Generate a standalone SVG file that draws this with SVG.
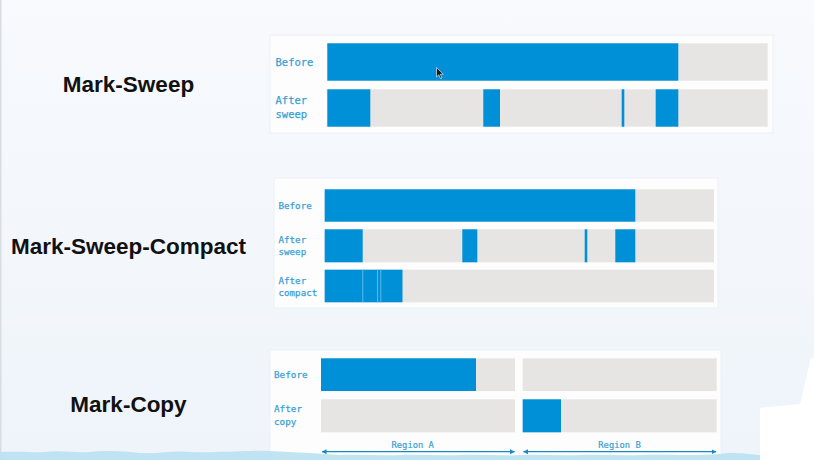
<svg xmlns="http://www.w3.org/2000/svg" width="814" height="460" viewBox="0 0 814 460">
  <defs>
    <linearGradient id="bg" x1="0" y1="0" x2="0" y2="1">
      <stop offset="0" stop-color="#f8fafd"/>
      <stop offset="1" stop-color="#eef4fa"/>
    </linearGradient>
    <marker id="ah" viewBox="0 0 10 10" refX="9" refY="5" markerWidth="5" markerHeight="5" orient="auto-start-reverse" markerUnits="userSpaceOnUse">
      <path d="M0,0 L10,5 L0,10 Z" fill="#1b8ac3"/>
    </marker>
    <style>
      .panel { fill: #fdfdfe; stroke: #ebf0f6; stroke-width: 1; }
      .bar { fill: #e6e5e4; }
      .used { fill: #0090d8; }
      .sep { stroke: #5cbbe9; stroke-width: 1; }
      .lbl { font-family: "DejaVu Sans Mono", "Liberation Mono", monospace; fill: #3a9fd4; stroke: #3a9fd4; stroke-width: 0.25; }
      .title { font-family: "Liberation Sans", Arial, sans-serif; font-weight: bold; font-size: 22.5px; fill: #111; text-anchor: middle; }
      .conn { stroke: #1b8ac3; stroke-width: 1.2; fill: none; }
      .region { font-family: "DejaVu Sans Mono", "Liberation Mono", monospace; font-size: 8.8px; fill: #3a9fd4; stroke: #3a9fd4; stroke-width: 0.2; text-anchor: middle; }
    </style>
  </defs>

  <rect x="0" y="0" width="814" height="460" fill="url(#bg)"/>
  <rect x="0" y="0" width="1.5" height="460" fill="#d8dde3"/>

  <!-- Titles -->
  <g id="title-mark-sweep"><text class="title" x="128.5" y="92">Mark-Sweep</text></g>
  <g id="title-mark-sweep-compact"><text class="title" x="128.5" y="253.5">Mark-Sweep-Compact</text></g>
  <g id="title-mark-copy"><text class="title" x="128.5" y="412">Mark-Copy</text></g>

  <!-- Panel 1: Mark-Sweep -->
  <g id="panel-mark-sweep">
    <rect class="panel" x="270" y="35" width="503" height="98"/>
    <g id="ms-before">
      <text class="lbl" x="275.5" y="65.5" font-size="10.5">Before</text>
      <rect class="bar" x="327.3" y="43.3" width="440.4" height="37.4"/>
      <rect class="used" x="327.3" y="43.3" width="351" height="37.4"/>
    </g>
    <g id="ms-after">
      <text class="lbl" x="275.5" y="104" font-size="10.5">After</text>
      <text class="lbl" x="275.5" y="117.5" font-size="10.5">sweep</text>
      <rect class="bar" x="327.3" y="89.3" width="440.4" height="37.4"/>
      <rect class="used" x="327.3" y="89.3" width="43" height="37.4"/>
      <rect class="used" x="483.3" y="89.3" width="16.7" height="37.4"/>
      <rect class="used" x="621.7" y="89.3" width="2.6" height="37.4"/>
      <rect class="used" x="655.7" y="89.3" width="22.6" height="37.4"/>
    </g>
    <path id="cursor" d="M436.5,67.5 L436.5,77 L438.8,74.8 L440.6,78.6 L442,78 L440.3,74.3 L443.3,74.2 Z" fill="#1a1a1a" stroke="#ffffff" stroke-width="0.6"/>
  </g>

  <!-- Panel 2: Mark-Sweep-Compact -->
  <g id="panel-mark-sweep-compact">
    <rect class="panel" x="274" y="178" width="444" height="130"/>
    <g id="msc-before">
      <text class="lbl" x="278.5" y="208.5" font-size="9.2">Before</text>
      <rect class="bar" x="324.7" y="189.3" width="389.3" height="32.4"/>
      <rect class="used" x="324.7" y="189.3" width="310.6" height="32.4"/>
    </g>
    <g id="msc-after-sweep">
      <text class="lbl" x="278.5" y="242.8" font-size="9.2">After</text>
      <text class="lbl" x="278.5" y="255.2" font-size="9.2">sweep</text>
      <rect class="bar" x="324.7" y="229.3" width="389.3" height="33"/>
      <rect class="used" x="324.7" y="229.3" width="38" height="33"/>
      <rect class="used" x="462.3" y="229.3" width="15" height="33"/>
      <rect class="used" x="584.7" y="229.3" width="2.6" height="33"/>
      <rect class="used" x="615.3" y="229.3" width="20" height="33"/>
    </g>
    <g id="msc-after-compact">
      <text class="lbl" x="278.5" y="283.5" font-size="9.2">After</text>
      <text class="lbl" x="278.5" y="295.5" font-size="9.2">compact</text>
      <rect class="bar" x="324.7" y="269.7" width="389.3" height="32.6"/>
      <rect class="used" x="324.7" y="269.7" width="77.8" height="32.6"/>
      <line class="sep" x1="362.8" y1="269.7" x2="362.8" y2="302.3"/>
      <line class="sep" x1="377.6" y1="269.7" x2="377.6" y2="302.3"/>
      <line class="sep" x1="380.8" y1="269.7" x2="380.8" y2="302.3"/>
    </g>
  </g>

  <!-- Panel 3: Mark-Copy -->
  <g id="panel-mark-copy">
    <rect class="panel" x="270" y="350" width="451" height="112"/>
    <g id="mc-before">
      <text class="lbl" x="274" y="377.8" font-size="9.3">Before</text>
      <rect class="bar" x="321" y="358.3" width="194" height="32.7"/>
      <rect class="used" x="321" y="358.3" width="155" height="32.7"/>
      <rect class="bar" x="522.7" y="358.3" width="194" height="32.7"/>
    </g>
    <g id="mc-after">
      <text class="lbl" x="274" y="412.4" font-size="9.3">After</text>
      <text class="lbl" x="274" y="425" font-size="9.3">copy</text>
      <rect class="bar" x="321" y="399.3" width="194" height="33"/>
      <rect class="bar" x="522.7" y="399.3" width="194" height="33"/>
      <rect class="used" x="522.7" y="399.3" width="38.3" height="33"/>
    </g>
    <g id="region-a-label"><text class="region" x="412.7" y="447.7">Region A</text></g>
    <g id="region-b-label"><text class="region" x="619.5" y="447.7">Region B</text></g>
  </g>

  <!-- Connectors -->
  <g id="connectors">
    <line class="conn" x1="322" y1="451.7" x2="514.5" y2="451.7" marker-start="url(#ah)" marker-end="url(#ah)"/>
    <line class="conn" x1="523.5" y1="451.7" x2="716" y2="451.7" marker-start="url(#ah)" marker-end="url(#ah)"/>
  </g>

  <!-- bottom water strip and right-side white patch -->
  <path d="M0,452 C20,451 35,453 45,452 C60,450 75,453 90,452 C105,450 125,451 140,453 C160,454 175,450 190,452 C210,453 235,451 250,451 C270,450 290,453 310,453 L340,455 C360,454 380,456 400,455 C420,454 440,456 460,455 C480,454 500,456 520,455 C540,454 560,456 580,455 C600,454 620,456 640,455 C660,454 690,456 720,454 C730,452 740,453 760,455 L814,455 L814,460 L0,460 Z" fill="#b9e1f1" opacity="0.9"/>
  <path d="M760,408 L800,404 L811,358 L814,358 L814,460 L760,460 Z" fill="#ffffff"/>
</svg>
